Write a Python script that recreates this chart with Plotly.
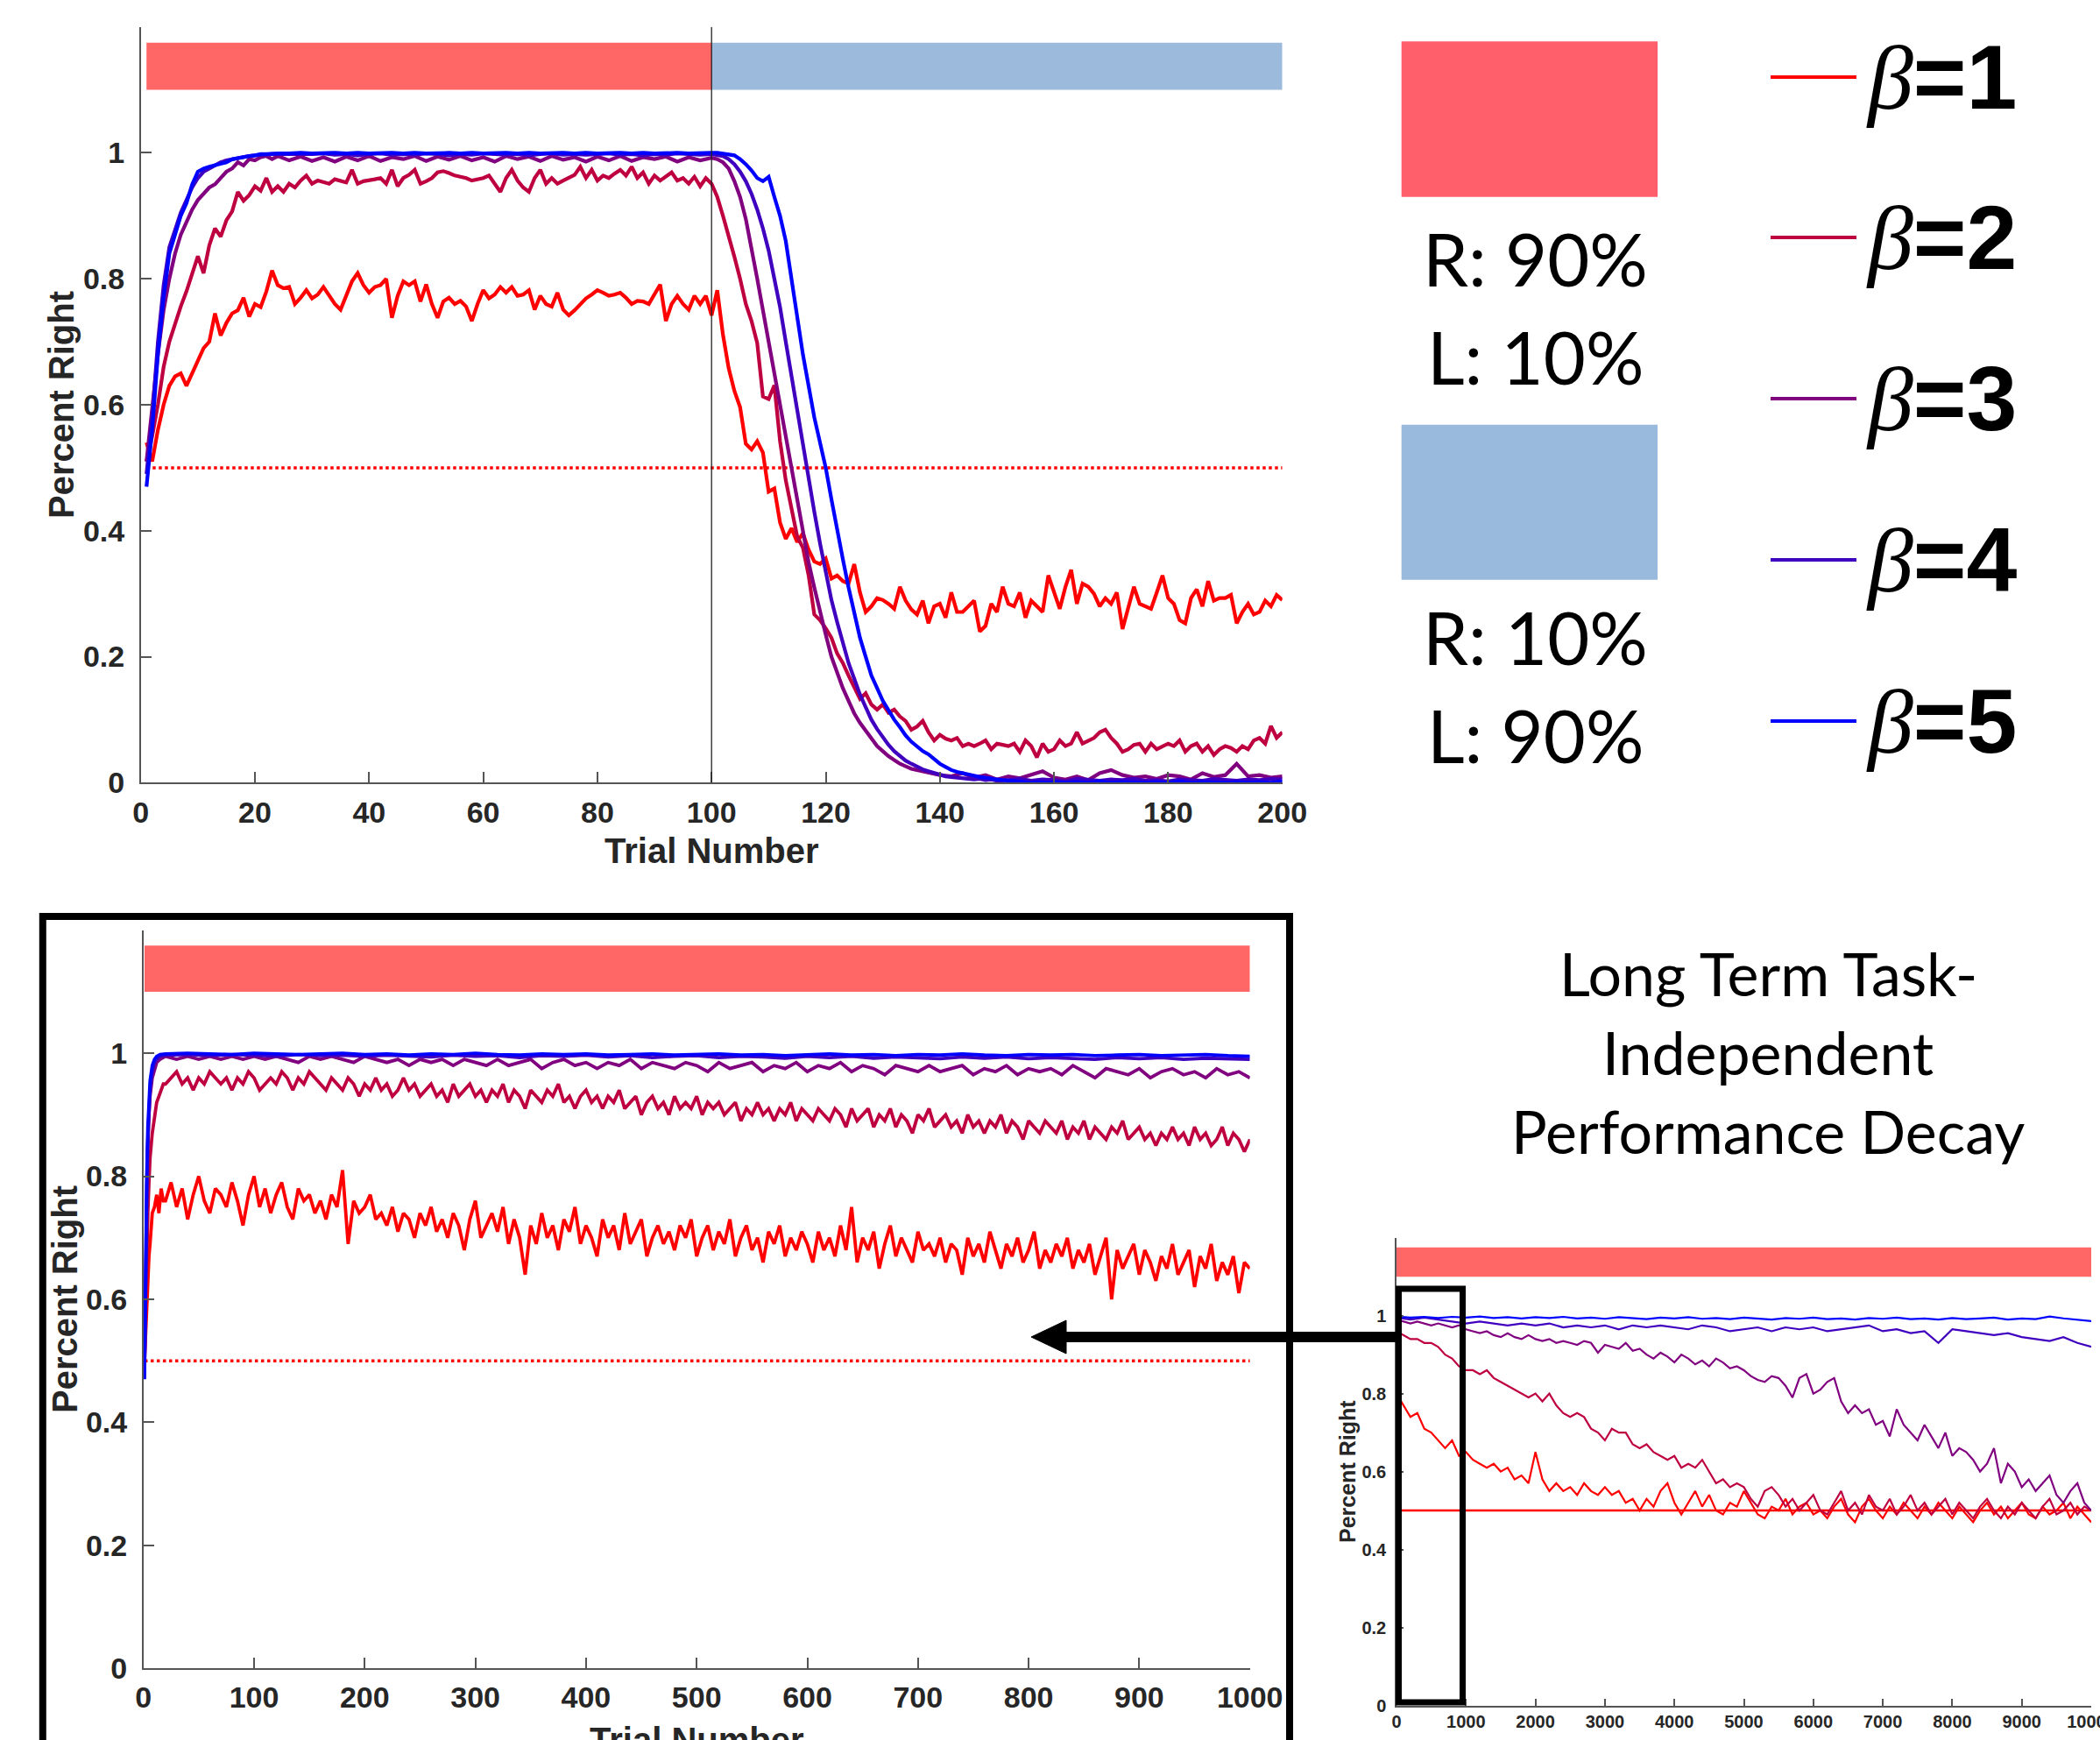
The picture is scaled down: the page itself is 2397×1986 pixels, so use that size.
import plotly.graph_objects as go

W, H = 2397, 1986
def px(x): return x / W
def py(y): return 1 - y / H

COLORS = ['#FF0000', '#BF0040', '#800080', '#4000BF', '#0000FF']
BETAS = ['1', '2', '3', '4', '5']

# ---------------- Top panel (trials 1..200) ----------------
TOP_R1 = [0.54,0.51,0.56,0.60,0.63,0.645,0.65,0.63,0.65,0.67,0.69,0.70,0.745,0.71,0.73,0.745,0.75,0.77,0.74,0.76,
          0.755,0.78,0.813,0.79,0.785,0.787,0.76,0.77,0.782,0.769,0.775,0.787,0.773,0.76,0.751,0.775,0.796,0.809,0.79,0.778,
          0.787,0.79,0.80,0.738,0.773,0.796,0.79,0.796,0.764,0.791,0.76,0.738,0.764,0.77,0.76,0.765,0.756,0.733,0.76,0.782,
          0.769,0.775,0.787,0.778,0.787,0.773,0.775,0.782,0.751,0.773,0.76,0.756,0.778,0.751,0.742,0.75,0.76,0.769,0.775,0.782,
          0.778,0.773,0.775,0.778,0.77,0.76,0.765,0.764,0.76,0.775,0.791,0.733,0.76,0.773,0.76,0.751,0.773,0.76,0.773,0.742,
          0.782,0.711,0.658,0.622,0.596,0.538,0.529,0.542,0.524,0.462,0.467,0.413,0.387,0.404,0.382,0.396,0.37,0.351,0.347,0.356,
          0.324,0.329,0.32,0.316,0.347,0.302,0.271,0.28,0.293,0.29,0.284,0.276,0.311,0.289,0.275,0.267,0.289,0.253,0.28,0.284,
          0.262,0.302,0.271,0.271,0.28,0.289,0.24,0.249,0.284,0.271,0.311,0.284,0.28,0.302,0.262,0.289,0.28,0.271,0.329,0.302,
          0.276,0.311,0.338,0.284,0.316,0.311,0.3,0.28,0.293,0.284,0.302,0.244,0.276,0.311,0.284,0.28,0.276,0.302,0.329,0.293,
          0.284,0.258,0.253,0.293,0.307,0.28,0.32,0.289,0.293,0.293,0.298,0.253,0.271,0.284,0.267,0.271,0.289,0.28,0.298,0.29]
TOP_R2 = [0.51,0.55,0.60,0.66,0.70,0.73,0.756,0.78,0.81,0.836,0.809,0.853,0.88,0.867,0.893,0.907,0.938,0.924,0.933,0.947,
          0.94,0.96,0.938,0.947,0.938,0.951,0.945,0.956,0.964,0.951,0.956,0.953,0.951,0.958,0.955,0.953,0.973,0.951,0.955,0.956,
          0.958,0.96,0.951,0.973,0.947,0.96,0.965,0.973,0.951,0.955,0.96,0.969,0.971,0.968,0.964,0.962,0.96,0.956,0.958,0.96,
          0.964,0.951,0.938,0.96,0.973,0.956,0.945,0.938,0.96,0.973,0.951,0.96,0.951,0.956,0.96,0.965,0.978,0.96,0.973,0.956,
          0.964,0.96,0.967,0.973,0.964,0.978,0.96,0.969,0.951,0.964,0.956,0.962,0.969,0.956,0.96,0.951,0.962,0.947,0.96,0.951,
          0.93,0.9,0.87,0.835,0.8,0.76,0.733,0.698,0.613,0.609,0.631,0.542,0.48,0.436,0.391,0.373,0.329,0.267,0.258,0.245,
          0.23,0.205,0.19,0.17,0.151,0.133,0.142,0.124,0.116,0.124,0.111,0.116,0.105,0.098,0.084,0.089,0.098,0.08,0.067,0.076,
          0.07,0.067,0.071,0.058,0.062,0.058,0.062,0.067,0.053,0.062,0.06,0.058,0.062,0.049,0.067,0.058,0.04,0.062,0.049,0.053,
          0.067,0.058,0.062,0.08,0.062,0.067,0.071,0.08,0.084,0.071,0.062,0.049,0.053,0.06,0.062,0.049,0.062,0.053,0.058,0.062,
          0.058,0.067,0.049,0.058,0.062,0.049,0.058,0.044,0.053,0.058,0.055,0.049,0.058,0.053,0.067,0.071,0.062,0.09,0.071,0.08]
# segments: (start, step, values)
TOP_R3 = [
    (1, 1, [0.51,0.6,0.68,0.75,0.8,0.84,0.87,0.89,0.91,0.925,0.935,0.945,0.95,0.96,0.97,0.975,0.985,0.98,0.99,0.988,0.993,0.995,0.99,0.995]),
    (26, 2, [0.988,0.994,0.987,0.993,0.986,0.994,0.988,0.995,0.987,0.993,0.99,0.995,0.987,0.994,0.989,0.995,0.988,0.993,0.986,0.995,
             0.99,0.994,0.987,0.995,0.989,0.993,0.986,0.994,0.988,0.995,0.987,0.993,0.99,0.994,0.986,0.993,0.988,0.992]),
    (101, 1, [0.99,0.985,0.975,0.955,0.93,0.895,0.85,0.8,0.75,0.7,0.65,0.6,0.55,0.5,0.45,0.4,0.35,0.31,0.27,0.235,
              0.2,0.175,0.15,0.13,0.11,0.095,0.082,0.07,0.058,0.05,0.042,0.036,0.03,0.026,0.022,0.02,0.018,0.015,0.013,0.012]),
    (142, 2, [0.01,0.015,0.008,0.012,0.005,0.01,0.007,0.012,0.018,0.008,0.005,0.01,0.004,0.015,0.02,0.012,0.008,0.01,0.006,0.012,
              0.01,0.005,0.015,0.009,0.012,0.03,0.01,0.012,0.008,0.01]),
]
TOP_R4 = [
    (1, 1, [0.49,0.58,0.7,0.79,0.85,0.88,0.905,0.925,0.945,0.96,0.97,0.975,0.98,0.985,0.988,0.99,0.992,0.994,0.995,0.996,0.997,0.997,0.998,0.998]),
    (26, 2, [0.998,0.997,0.998,0.999,0.997,0.998,0.996,0.998,0.999,0.997,0.998,0.997,0.999,0.998,0.996,0.998,0.997,0.999,0.998,0.997,
             0.998,0.996,0.998,0.999,0.997,0.998,0.997,0.998,0.999,0.997,0.998,0.996,0.998,0.997,0.999,0.998,0.997,0.998]),
    (101, 1, [0.997,0.995,0.99,0.982,0.97,0.955,0.935,0.91,0.88,0.845,0.8,0.755,0.7,0.645,0.59,0.535,0.48,0.43,0.38,0.335,
              0.29,0.255,0.22,0.19,0.165,0.14,0.12,0.1,0.085,0.072,0.06,0.05,0.042,0.035,0.03,0.025,0.021,0.018,0.015,0.012,
              0.01,0.009,0.008,0.007,0.006,0.005,0.006,0.004,0.005,0.003]),
    (152, 2, [0.004,0.006,0.003,0.005,0.004,0.002,0.006,0.004,0.003,0.005,0.004,0.006,0.003,0.004,0.002,0.005,0.004,0.003,0.006,0.004,
              0.003,0.005,0.004,0.006,0.005]),
]
TOP_R5 = [
    (1, 1, [0.47,0.56,0.68,0.77,0.84,0.87,0.9,0.92,0.95,0.97,0.975,0.978,0.98,0.982,0.985,0.99,0.992,0.994,0.995,0.996,0.998,0.998,0.999,0.999]),
    (26, 2, [0.999,1.0,0.999,1.0,1.0,0.999,1.0,0.999,1.0,1.0,0.999,1.0,0.999,1.0,1.0,0.999,1.0,0.999,1.0,1.0,
             0.999,1.0,0.999,1.0,1.0,0.999,1.0,0.999,1.0,1.0,0.999,1.0,0.999,1.0,1.0,0.999,1.0,1.0]),
    (101, 1, [1.0,0.999,0.998,0.996,0.99,0.982,0.972,0.96,0.955,0.962,0.93,0.9,0.86,0.8,0.745,0.68,0.63,0.58,0.54,0.5,
              0.45,0.4,0.355,0.31,0.27,0.23,0.2,0.17,0.15,0.13,0.115,0.1,0.088,0.075,0.065,0.058,0.05,0.045,0.038,0.03,
              0.025,0.02,0.017,0.015,0.012,0.01,0.009,0.008,0.006,0.005,0.004,0.003,0.002,0.002,0.001,0.0,0.001,0.0,0.0,0.001]),
    (162, 2, [0.0,0.001,0.0,0.002,0.0,0.001,0.0,0.0,0.001,0.0,0.002,0.0,0.001,0.0,0.0,0.001,0.0,0.001,0.0,0.002]),
]
TOP_PHASES = [(1, 100, '#FF6666'), (100, 200, '#9BBADC')]
BAR_Y = (1.1, 1.175)
SWITCH_TRIAL = 100
CHANCE = 0.5

# ---------------- Bottom-left panel (trials 1..1000) ----------------
BL_R1 = [
    (1, None, ([1,2,3,4,5,6,7,8,10,12,14,16,18], [0.5,0.55,0.6,0.64,0.67,0.69,0.72,0.74,0.75,0.77,0.74,0.78,0.76])),
    (20, 5, [0.76,0.79,0.75,0.78,0.73,0.77,0.80,0.76,0.74,0.78,0.77,0.75,0.79,0.76,0.72,0.77,0.80,0.75,0.78,0.74,
             0.77,0.79,0.75,0.73,0.78,0.76,0.77,0.74,0.76,0.73,0.77,0.75,0.81,0.69,0.76,0.74,0.75,0.77,0.73,0.74,
             0.72,0.75,0.71,0.74,0.73,0.70,0.74,0.72,0.75,0.71,0.73,0.70,0.74,0.72,0.68,0.73,0.76,0.70,0.72,0.74,
             0.71,0.75,0.69,0.73,0.70,0.64,0.72,0.69,0.74,0.70,0.72,0.68,0.73,0.71,0.75,0.69,0.72,0.70,0.67,0.73,
             0.70,0.72,0.68,0.74,0.69,0.71,0.73,0.67,0.70,0.72,0.69,0.71,0.68,0.72,0.70,0.73,0.67,0.70,0.72,0.68,
             0.71,0.69,0.73,0.67,0.70,0.72,0.68,0.70,0.66,0.71,0.69,0.72,0.67,0.70,0.68,0.71,0.69,0.66,0.71,0.68,
             0.70,0.67,0.72,0.68,0.75,0.66,0.70,0.68,0.71,0.65,0.69,0.72,0.67,0.70,0.68,0.66,0.71,0.68,0.69,0.67,
             0.70,0.66,0.69,0.68,0.64,0.70,0.67,0.69,0.66,0.71,0.68,0.65,0.69,0.67,0.70,0.66,0.68,0.71,0.65,0.68,
             0.66,0.69,0.67,0.70,0.65,0.68,0.66,0.69,0.64,0.67,0.70,0.60,0.68,0.65,0.67,0.69,0.64,0.68,0.66,0.63,
             0.67,0.65,0.69,0.64,0.66,0.68,0.62,0.67,0.65,0.69,0.63,0.66,0.64,0.67,0.61,0.66,0.65]),
]
BL_R2 = [
    (1, None, ([1,2,3,4,5,6,8,10,12,14,16,18], [0.5,0.6,0.68,0.74,0.79,0.83,0.87,0.9,0.92,0.93,0.94,0.95])),
    (20, 5, [0.95,0.96,0.97,0.95,0.96,0.94,0.96,0.95,0.97,0.96,0.95,0.96,0.94,0.96,0.95,0.97,0.96,0.94,0.95,0.96,
             0.95,0.97,0.96,0.94,0.96,0.95,0.97,0.96,0.95,0.94,0.96,0.95,0.94,0.96,0.95,0.93,0.95,0.94,0.96,0.94,
             0.95,0.93,0.94,0.96,0.94,0.95,0.93,0.94,0.95,0.93,0.94,0.92,0.95,0.93,0.94,0.95,0.93,0.94,0.92,0.94,
             0.93,0.95,0.92,0.94,0.93,0.91,0.94,0.93,0.92,0.94,0.93,0.95,0.92,0.93,0.91,0.93,0.94,0.92,0.93,0.91,
             0.93,0.92,0.94,0.91,0.92,0.93,0.90,0.92,0.93,0.91,0.92,0.90,0.93,0.91,0.92,0.91,0.93,0.90,0.92,0.91,
             0.92,0.90,0.91,0.92,0.89,0.91,0.90,0.92,0.90,0.91,0.89,0.91,0.90,0.92,0.89,0.91,0.90,0.89,0.91,0.90,
             0.89,0.91,0.90,0.88,0.91,0.89,0.90,0.91,0.88,0.90,0.89,0.91,0.88,0.90,0.89,0.87,0.90,0.89,0.91,0.88,
             0.89,0.90,0.88,0.89,0.87,0.90,0.88,0.89,0.87,0.89,0.88,0.90,0.87,0.89,0.88,0.86,0.89,0.88,0.87,0.89,
             0.88,0.87,0.89,0.86,0.88,0.87,0.89,0.86,0.88,0.87,0.86,0.88,0.87,0.89,0.86,0.87,0.88,0.86,0.87,0.85,
             0.87,0.86,0.88,0.86,0.87,0.85,0.88,0.86,0.87,0.85,0.86,0.88,0.85,0.87,0.86,0.84,0.86]),
]
BL_R3 = [
    (1, None, ([1,2,3,4,5,6,8,10,12,15], [0.5,0.65,0.77,0.85,0.9,0.93,0.96,0.975,0.985,0.99])),
    (20, 10, [0.995,0.99,0.995,0.99,0.995,0.99,0.995,0.99,0.995,0.99,
              0.995,0.99,0.985,0.995,0.99,0.995,0.99,0.985,0.995,0.99,
              0.985,0.99,0.98,0.99,0.985,0.99,0.98,0.99,0.985,0.98,
              0.99,0.98,0.985,0.99,0.975,0.985,0.99,0.98,0.985,0.975,
              0.985,0.98,0.99,0.975,0.985,0.98,0.975,0.985,0.98,0.97,
              0.985,0.975,0.98,0.985,0.97,0.98,0.975,0.985,0.97,0.98,
              0.975,0.985,0.97,0.98,0.975,0.965,0.98,0.975,0.97,0.98,
              0.97,0.975,0.98,0.965,0.975,0.97,0.98,0.965,0.975,0.97,
              0.975,0.965,0.98,0.97,0.96,0.975,0.97,0.965,0.975,0.96,
              0.97,0.975,0.965,0.97,0.96,0.975,0.965,0.97,0.96]),
]
BL_R4 = [
    (1, None, ([1,2,3,4,5,6,8,10,12,15], [0.48,0.65,0.78,0.86,0.91,0.94,0.97,0.985,0.99,0.995])),
    (20, 20, [0.997,0.998,0.996,0.998,0.997,0.995,0.998,0.996,0.997,0.995,0.997,0.996,0.994,0.997,0.995,0.996,0.993,0.996,0.995,0.997,
              0.994,0.996,0.993,0.995,0.996,0.993,0.995,0.994,0.992,0.995,0.993,0.995,0.992,0.994,0.993,0.991,0.994,0.992,0.994,0.991,
              0.993,0.992,0.99,0.993,0.991,0.993,0.99,0.992,0.991,0.99]),
]
BL_R5 = [
    (1, None, ([1,2,3,4,5,6,8,10,12,15], [0.47,0.66,0.8,0.88,0.93,0.955,0.98,0.99,0.995,0.998])),
    (20, 20, [0.999,1.0,0.999,0.998,1.0,0.999,0.998,0.999,1.0,0.998,0.999,0.997,0.999,0.998,1.0,0.998,0.997,0.999,0.998,0.999,
              0.997,0.998,0.999,0.997,0.998,0.999,0.997,0.998,0.996,0.998,0.999,0.997,0.998,0.996,0.998,0.997,0.999,0.997,0.996,0.998,
              0.997,0.998,0.996,0.997,0.998,0.996,0.997,0.998,0.996,0.995]),
]

# ---------------- Bottom-right panel (trials 0..10000) ----------------
SR_R1 = [0.80,0.77,0.74,0.75,0.71,0.70,0.68,0.66,0.68,0.64,0.65,0.63,0.62,0.61,0.62,0.60,0.61,0.58,0.59,0.57,
         0.65,0.58,0.55,0.57,0.55,0.56,0.54,0.57,0.55,0.54,0.56,0.54,0.55,0.52,0.53,0.50,0.53,0.51,0.55,0.57,
         0.52,0.49,0.52,0.55,0.51,0.54,0.50,0.49,0.52,0.51,0.55,0.52,0.49,0.48,0.51,0.50,0.53,0.49,0.51,0.52,
         0.49,0.50,0.48,0.51,0.53,0.49,0.47,0.51,0.53,0.50,0.48,0.51,0.49,0.52,0.50,0.48,0.51,0.49,0.52,0.50,
         0.48,0.51,0.49,0.47,0.50,0.52,0.49,0.51,0.48,0.50,0.52,0.49,0.48,0.51,0.49,0.50,0.52,0.48,0.51,0.49,0.47]
SR_R2 = [0.96,0.95,0.94,0.94,0.93,0.93,0.92,0.90,0.89,0.87,0.86,0.86,0.85,0.86,0.84,0.83,0.82,0.81,0.80,0.79,
         0.80,0.78,0.80,0.77,0.75,0.74,0.75,0.74,0.71,0.70,0.68,0.71,0.70,0.70,0.67,0.66,0.67,0.65,0.64,0.63,
         0.64,0.61,0.62,0.61,0.63,0.60,0.57,0.58,0.56,0.57,0.56,0.53,0.51,0.55,0.56,0.54,0.51,0.53,0.50,0.52,
         0.54,0.50,0.49,0.52,0.55,0.50,0.52,0.49,0.54,0.51,0.50,0.53,0.49,0.51,0.54,0.50,0.52,0.49,0.51,0.53,
         0.49,0.52,0.50,0.48,0.51,0.53,0.50,0.48,0.51,0.49,0.52,0.50,0.48,0.51,0.53,0.49,0.50,0.52,0.49,0.51,0.50]
SR_R3 = [0.99,0.985,0.98,0.985,0.98,0.975,0.98,0.975,0.97,0.975,0.965,0.96,0.955,0.96,0.95,0.945,0.955,0.945,0.94,0.95,
         0.94,0.935,0.94,0.93,0.935,0.93,0.925,0.935,0.93,0.905,0.925,0.92,0.915,0.93,0.91,0.915,0.9,0.89,0.905,0.895,
         0.88,0.9,0.89,0.875,0.885,0.87,0.89,0.88,0.865,0.87,0.86,0.845,0.835,0.83,0.845,0.84,0.82,0.79,0.84,0.85,
         0.8,0.81,0.83,0.84,0.78,0.75,0.77,0.75,0.76,0.72,0.73,0.69,0.76,0.72,0.7,0.68,0.72,0.69,0.66,0.7,
         0.64,0.66,0.65,0.63,0.6,0.62,0.66,0.57,0.62,0.6,0.56,0.58,0.55,0.57,0.59,0.54,0.52,0.55,0.57,0.52,0.5]
SR_R4 = [0.995,0.99,0.995,0.99,0.985,0.98,0.985,0.98,0.975,0.98,0.975,0.98,0.97,0.975,0.97,0.975,0.965,0.975,0.97,0.975,
         0.97,0.965,0.975,0.97,0.96,0.965,0.97,0.96,0.97,0.965,0.97,0.96,0.965,0.97,0.975,0.96,0.965,0.955,0.96,0.93,
         0.965,0.96,0.955,0.95,0.955,0.945,0.94,0.935,0.945,0.93,0.92]
SR_R5 = [0.998,0.995,0.997,0.994,0.997,0.995,0.998,0.994,0.996,0.993,0.996,0.994,0.997,0.993,0.995,0.992,0.996,0.994,0.991,0.995,
         0.993,0.996,0.992,0.994,0.991,0.995,0.993,0.99,0.994,0.992,0.995,0.991,0.993,0.99,0.994,0.992,0.995,0.991,0.993,0.99,
         0.994,0.991,0.993,0.995,0.99,0.993,0.991,0.998,0.993,0.99,0.986]
SR_STEPS = [100, 100, 100, 200, 200]


def build(segments):
    xs, ys = [], []
    for start, step, vals in segments:
        if step is None:
            xs += list(vals[0]); ys += list(vals[1])
        else:
            xs += [start + step * i for i in range(len(vals))]
            ys += list(vals)
    return xs, ys


fig = go.Figure()

# top panel traces
top_series = [
    (list(range(1, len(TOP_R1) + 1)), TOP_R1),
    (list(range(1, len(TOP_R2) + 1)), TOP_R2),
    build(TOP_R3), build(TOP_R4), build(TOP_R5),
]
fig.add_trace(go.Scatter(x=[1, 200], y=[CHANCE, CHANCE], mode='lines', xaxis='x', yaxis='y',
                         line=dict(color='#FF0000', width=3.5, dash='dot'), showlegend=False, hoverinfo='skip'))
for (xs, ys), c in zip(top_series, COLORS):
    fig.add_trace(go.Scatter(x=xs, y=ys, mode='lines', xaxis='x', yaxis='y',
                             line=dict(color=c, width=4.2), showlegend=False))

# bottom-left traces
bl_series = [build(BL_R1), build(BL_R2), build(BL_R3), build(BL_R4), build(BL_R5)]
fig.add_trace(go.Scatter(x=[1, 1000], y=[CHANCE, CHANCE], mode='lines', xaxis='x2', yaxis='y2',
                         line=dict(color='#FF0000', width=3.5, dash='dot'), showlegend=False, hoverinfo='skip'))
for (xs, ys), c in zip(bl_series, COLORS):
    fig.add_trace(go.Scatter(x=xs, y=ys, mode='lines', xaxis='x2', yaxis='y2',
                             line=dict(color=c, width=3.8), showlegend=False))

# bottom-right traces
fig.add_trace(go.Scatter(x=[0, 10000], y=[CHANCE, CHANCE], mode='lines', xaxis='x3', yaxis='y3',
                         line=dict(color='#FF0000', width=2.5), showlegend=False, hoverinfo='skip'))
for ys, st, c in zip([SR_R1, SR_R2, SR_R3, SR_R4, SR_R5], SR_STEPS, COLORS):
    fig.add_trace(go.Scatter(x=[st * i for i in range(len(ys))], y=ys, mode='lines', xaxis='x3', yaxis='y3',
                             line=dict(color=c, width=2.2), showlegend=False))

AXC = '#555555'
TXT = '#262626'
FONT = 'Liberation Sans, Arial, sans-serif'


def xax(domain, anchor, rng, tickvals, size, ticklen, standoff):
    return dict(domain=domain, anchor=anchor, range=rng, tickvals=tickvals, automargin=False,
                ticktext=[str(v) for v in tickvals], showline=True, linecolor=AXC, linewidth=1.5,
                ticks='inside', ticklen=ticklen, tickwidth=1.5, tickcolor=AXC, showgrid=False, zeroline=False,
                tickfont=dict(family=FONT, size=size, color=TXT, weight='bold'), ticklabelstandoff=standoff,
                ticklabeloverflow='allow')


def yax(domain, anchor, size, ticklen, standoff):
    vals = [0, 0.2, 0.4, 0.6, 0.8, 1.0, 1.2]
    return dict(domain=domain, anchor=anchor, range=[0, 1.2], tickvals=vals, automargin=False,
                ticktext=['0', '0.2', '0.4', '0.6', '0.8', '1', ''], showline=True, linecolor=AXC, linewidth=1.5,
                ticks='inside', ticklen=ticklen, tickwidth=1.5, tickcolor=AXC, showgrid=False, zeroline=False,
                tickfont=dict(family=FONT, size=size, color=TXT, weight='bold'), ticklabelstandoff=standoff)


TOP_L, TOP_R, TOP_B, TOP_T = 160.7, 1463.7, 893.3, 30.7
BL_L, BL_R, BL_B, BL_T = 163.7, 1426.7, 1904.3, 1061.7
SR_L, SR_Rr, SR_B, SR_T = 1594.0, 2387.0, 1946.5, 1412.7

shapes = []
annotations = []

# phase bars
for x0, x1, col in TOP_PHASES:
    shapes.append(dict(type='rect', xref='x', yref='y', x0=x0, x1=x1, y0=BAR_Y[0], y1=BAR_Y[1],
                       fillcolor=col, line=dict(width=0), layer='below'))
shapes.append(dict(type='rect', xref='x2', yref='y2', x0=1, x1=1000, y0=BAR_Y[0], y1=BAR_Y[1],
                   fillcolor='#FF6666', line=dict(width=0), layer='below'))
shapes.append(dict(type='rect', xref='x3', yref='y3', x0=0, x1=10000, y0=BAR_Y[0], y1=BAR_Y[1],
                   fillcolor='#FF6666', line=dict(width=0), layer='below'))
shapes.append(dict(type='line', xref='x', yref='y', x0=SWITCH_TRIAL, x1=SWITCH_TRIAL, y0=0, y1=1.2,
                   line=dict(color='#222222', width=1.3)))

# boxes and arrow (big box open at the bottom edge of the picture)
for (xa, ya, xb, yb) in [(48.8, 1046, 1472, 1046), (48.8, 1042, 48.8, 1986), (1472, 1042, 1472, 1986)]:
    shapes.append(dict(type='line', xref='paper', yref='paper', x0=px(xa), x1=px(xb), y0=py(ya), y1=py(yb),
                       line=dict(color='black', width=8), layer='above'))
shapes.append(dict(type='rect', xref='paper', yref='paper', x0=px(1596.5), x1=px(1669.5), y0=py(1471), y1=py(1943),
                   line=dict(color='black', width=7), fillcolor='rgba(0,0,0,0)', layer='above'))
shapes.append(dict(type='line', xref='paper', yref='paper', x0=px(1205), x1=px(1597), y0=py(1526), y1=py(1526),
                   line=dict(color='black', width=12), layer='above'))
shapes.append(dict(type='path', xref='paper', yref='paper',
                   path=f'M {px(1177)} {py(1526)} L {px(1217)} {py(1507)} L {px(1217)} {py(1545)} Z',
                   fillcolor='black', line=dict(color='black', width=1), layer='above'))

# legend: probability boxes
shapes.append(dict(type='rect', xref='paper', yref='paper', x0=px(1599.7), x1=px(1892), y0=py(47.3), y1=py(224.8),
                   fillcolor='#FF5F6A', line=dict(width=0)))
shapes.append(dict(type='rect', xref='paper', yref='paper', x0=px(1599.7), x1=px(1892), y0=py(484.8), y1=py(661.8),
                   fillcolor='#99B9DD', line=dict(width=0)))
for txt, yy in [('R: 90%', 295), ('L: 10%', 407), ('R: 10%', 727), ('L: 90%', 839)]:
    annotations.append(dict(text=txt, xref='paper', yref='paper', x=px(1752), y=py(yy), xanchor='center',
                            yanchor='middle', showarrow=False,
                            font=dict(family='Lato, Open Sans, sans-serif', size=83, color='black')))

# legend: beta lines
for c, b, yy in zip(COLORS, BETAS, [88, 271, 455, 639, 823]):
    shapes.append(dict(type='line', xref='paper', yref='paper', x0=px(2021), x1=px(2119), y0=py(yy), y1=py(yy),
                       line=dict(color=c, width=4)))
    annotations.append(dict(
        text=f'<span style="font-family:Liberation Serif;font-weight:normal;font-style:italic">β</span>={b}',
        xref='paper', yref='paper', x=px(2128), y=py(yy), xanchor='left', yanchor='middle', showarrow=False,
        font=dict(family=FONT, size=104, color='black', weight='bold')))

# right-side caption
for txt, yy in [('Long Term Task-', 1110), ('Independent', 1200), ('Performance Decay', 1290)]:
    annotations.append(dict(text=txt, xref='paper', yref='paper', x=px(2018), y=py(yy), xanchor='center',
                            yanchor='middle', showarrow=False,
                            font=dict(family='Lato, Open Sans, sans-serif', size=68, color='black')))

# axis titles
def title(text, x, y, size, angle=0):
    annotations.append(dict(text=text, xref='paper', yref='paper', x=px(x), y=py(y), xanchor='center',
                            yanchor='middle', showarrow=False, textangle=angle,
                            font=dict(family=FONT, size=size, color=TXT, weight='bold')))

title('Trial Number', 812, 971, 40)
title('Percent Right', 70, 462, 40, -90)
title('Trial Number', 795, 1986, 40)
title('Percent Right', 74, 1483, 40, -90)
title('Trial Number', 1990, 2000, 25)
title('Percent Right', 1538, 1680, 25, -90)

fig.update_layout(
    template='none',
    width=W, height=H, autosize=False,
    margin=dict(l=0, r=0, t=0, b=0, pad=0),
    paper_bgcolor='white', plot_bgcolor='rgba(0,0,0,0)',
    showlegend=False,
    xaxis=xax([px(TOP_L), px(TOP_R)], 'y', [0, 200], list(range(0, 201, 20)), 34, 13, 3),
    yaxis=yax([py(TOP_B), py(TOP_T)], 'x', 34, 13, 10),
    xaxis2=xax([px(BL_L), px(BL_R)], 'y2', [0, 1000], list(range(0, 1001, 100)), 34, 13, 2),
    yaxis2=yax([py(BL_B), py(BL_T)], 'x2', 34, 13, 10),
    xaxis3=xax([px(SR_L), px(SR_Rr)], 'y3', [0, 10000], list(range(0, 10001, 1000)), 20, 8, 0),
    yaxis3=yax([py(SR_B), py(SR_T)], 'x3', 20, 8, 6),
    shapes=shapes,
    annotations=annotations,
)

fig.write_html('out.html')
